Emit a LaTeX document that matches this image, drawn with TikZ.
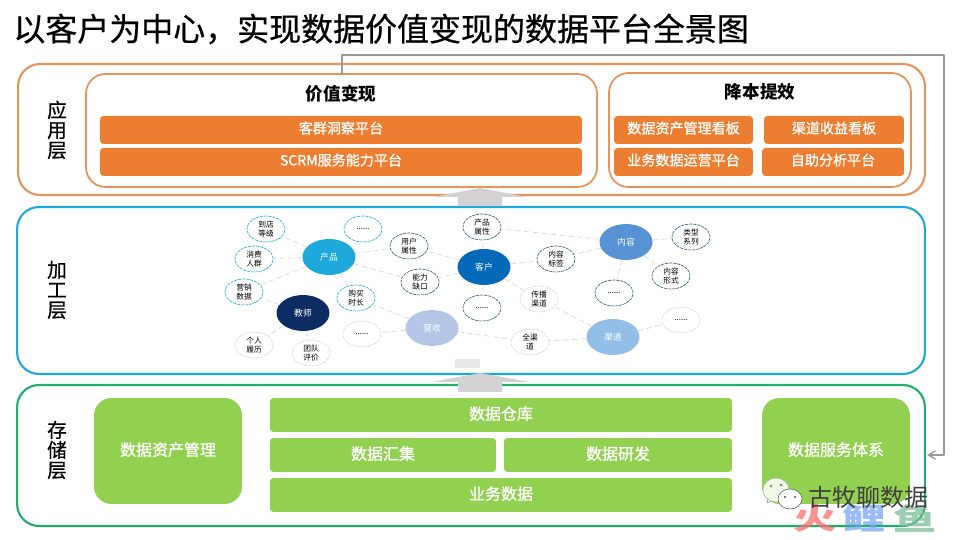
\documentclass[tikz,border=0pt]{standalone}
\usepackage{fontspec}
\setmainfont{Noto Sans CJK SC}
\newfontfamily\mediumfont[FakeBold=0.6]{Noto Sans CJK SC}
\newfontfamily\barfont[FakeBold=1]{Noto Sans CJK SC}
\usetikzlibrary{arrows,shapes.geometric,positioning}
\definecolor{barorange}{HTML}{ED7D31}
\definecolor{lineorange}{HTML}{E8935A}
\definecolor{layerblue}{HTML}{1DA9DC}
\definecolor{layergreen}{HTML}{1FAF6B}
\definecolor{bargreen}{HTML}{92D050}
\definecolor{arrowgray}{HTML}{D3D1D1}
\definecolor{edgegray}{HTML}{D8D8D8}
\definecolor{leafnavy}{HTML}{2A5A78}
\tikzset{
	layerbox/.style={draw,line width=1.2pt,rounded corners=12.5pt,inner sep=0pt,outer sep=0pt},
	groupbox/.style={draw=lineorange,line width=1pt,rounded corners=11pt,inner sep=0pt,outer sep=0pt},
	orangebar/.style={fill=barorange,rounded corners=2pt,inner sep=0pt,outer sep=0pt,text=white,text height=6.8pt,text depth=2.9pt,font=\fontsize{8}{10}\selectfont\barfont},
	greenbar/.style={fill=bargreen,rounded corners=2pt,inner sep=0pt,outer sep=0pt,text=white,text height=7.6pt,text depth=2.2pt,font=\fontsize{9.1}{11}\selectfont\barfont},
	greenbig/.style={greenbar,rounded corners=10pt,minimum width=2.96cm,minimum height=2.12cm},
	layertext/.style={align=center,font=\fontsize{11.2}{11.4}\selectfont\mediumfont},
	hub/.style={ellipse,minimum width=1.06cm,minimum height=0.72cm,inner sep=0pt,text=white,font=\fontsize{5}{6}\selectfont},
	leaf/.style={ellipse,draw=#1,dash pattern=on 1.6pt off 0.7pt,line width=0.35pt,fill=white,minimum width=0.76cm,minimum height=0.52cm,inner sep=0pt,align=center,font=\fontsize{4.4}{5}\selectfont},
	leaf/.default=layerblue,
	link/.style={edgegray,line width=0.4pt,densely dashed},
	uparrow/.style={fill=arrowgray,draw=none},
	logotext/.style={inner sep=0pt,text opacity=0.75,font=\fontsize{17}{18}\selectfont\bfseries}
}
\begin{document}
\begin{tikzpicture}[line cap=round,line join=round,>=angle 60,x=0.02cm,y=-0.02cm]
	\useasboundingbox (0,0) rectangle (960,540);
	\clip (0,0) rectangle (960,540);
	% title
	\node[anchor=west,inner sep=0pt,font=\fontsize{18.2}{20}\selectfont\mediumfont] (title) at (13,29) {以客户为中心，实现数据价值变现的数据平台全景图};
	% three layers
	\node[layerbox,draw=lineorange,minimum width=18.14cm,minimum height=2.62cm] (apply) at (471.5,129.5) {};
	\node[layerbox,draw=layerblue,minimum width=18.16cm,minimum height=3.34cm] (process) at (471,290.5) {};
	\node[layerbox,draw=layergreen,minimum width=18.16cm,minimum height=2.82cm] (store) at (471,455.5) {};
	\node[layertext] (applytext) at (57,130) {应\\用\\层};
	\node[layertext] (processtext) at (57,290) {加\\工\\层};
	\node[layertext] (storetext) at (57,450) {存\\储\\层};
	% application layer
	\node[groupbox,minimum width=10.22cm,minimum height=2.26cm] (value) at (341.5,130.5) {};
	\node[groupbox,minimum width=6.04cm,minimum height=2.28cm] (cost) at (760,130) {};
	\node[font=\fontsize{10}{12}\selectfont\bfseries] (valuetext) at (341,94) {价值变现};
	\node[font=\fontsize{10}{12}\selectfont\bfseries] (costtext) at (760,92) {降本提效};
	\node[orangebar,minimum width=9.64cm,minimum height=0.56cm] (insight) at (341,130) {客群洞察平台};
	\node[orangebar,minimum width=9.64cm,minimum height=0.56cm] (scrm) at (341,162) {SCRM服务能力平台};
	\node[orangebar,minimum width=2.78cm,minimum height=0.56cm] (asset) at (683.5,130) {数据资产管理看板};
	\node[orangebar,minimum width=2.80cm,minimum height=0.56cm] (channel) at (834,130) {渠道收益看板};
	\node[orangebar,minimum width=2.78cm,minimum height=0.56cm] (operate) at (683.5,162) {业务数据运营平台};
	\node[orangebar,minimum width=2.84cm,minimum height=0.56cm] (selfhelp) at (833,162) {自助分析平台};
	% storage layer
	\node[greenbig] (assetmgr) at (168,451) {数据资产管理};
	\node[greenbar,minimum width=9.24cm,minimum height=0.68cm] (warehouse) at (501,415) {数据仓库};
	\node[greenbar,minimum width=4.52cm,minimum height=0.68cm] (collect) at (383,455) {数据汇集};
	\node[greenbar,minimum width=4.56cm,minimum height=0.68cm] (develop) at (618,455) {数据研发};
	\node[greenbar,minimum width=9.24cm,minimum height=0.68cm] (bizdata) at (501,495) {业务数据};
	\node[greenbig] (service) at (836,451) {数据服务体系};
	% block arrows
	\node[fill=arrowgray!50,minimum width=0.5cm,minimum height=0.18cm,inner sep=0pt] (blob) at (467,363.5) {};
	\fill[uparrow] (480,188) -- (527,197) -- (502,197) -- (502,206) -- (458,206) -- (458,197) -- (433,197) -- cycle;
	\fill[uparrow] (480,373) -- (530,382) -- (502,382) -- (502,392) -- (458,392) -- (458,382) -- (432,382) -- cycle;
	% feedback line
	\coordinate (backleft) at (342,55);
	\coordinate (backright) at (944,55);
	\coordinate (backlow) at (944,455);
	\coordinate (backend) at (927,455);
	\draw[line width=0.8pt,color=black!40,->] (value.north -| backleft) -- (backleft) -- (backright) -- (backlow) -- (backend);
	% graph in the middle
	\node[hub,fill=layerblue] (product) at (329,257) {产品};
	\node[hub,fill={rgb,255:red,13;green,44;blue,100}] (teacher) at (303,313) {教师};
	\node[hub,fill={rgb,255:red,180;green,199;blue,231}] (revenue) at (432,328) {营收};
	\node[hub,fill={rgb,255:red,5;green,105;blue,185}] (customer) at (484,267) {客户};
	\node[hub,fill={rgb,255:red,86;green,146;blue,212}] (content) at (626,242) {内容};
	\node[hub,fill={rgb,255:red,146;green,190;blue,232}] (channelhub) at (613,337) {渠道};
	\node[leaf] (level) at (266,229) {到店\\等级};
	\node[leaf] (moreA) at (363,229) {......};
	\node[leaf] (crowd) at (254,259) {消费\\人群};
	\node[leaf] (sales) at (244,292) {营销\\数据};
	\node[leaf=edgegray] (moreB) at (362,334) {......};
	\node[leaf=edgegray] (resume) at (254,345) {个人\\履历};
	\node[leaf=edgegray] (review) at (311,353) {团队\\评价};
	\node[leaf] (buy) at (356,298) {购买\\时长};
	\node[leaf=leafnavy] (attr) at (409,246) {用户\\属性};
	\node[leaf=leafnavy] (gap) at (420,282) {能力\\缺口};
	\node[leaf=leafnavy] (prop) at (482,227) {产品\\属性};
	\node[leaf=leafnavy] (tag) at (556,259) {内容\\标签};
	\node[leaf=leafnavy] (moreC) at (482,308) {......};
	\node[leaf=edgegray] (spread) at (539,299) {传播\\渠道};
	\node[leaf=leafnavy] (moreD) at (614,293) {......};
	\node[leaf=leafnavy] (form) at (671,276) {内容\\形式};
	\node[leaf=leafnavy] (kind) at (691,237) {类型\\系列};
	\node[leaf=edgegray] (moreE) at (681,320) {......};
	\node[leaf=edgegray] (allchan) at (530,342) {全渠\\道};
	\draw[link] (product) -- (level);
	\draw[link] (product) -- (crowd);
	\draw[link] (product) -- (sales);
	\draw[link] (product) -- (attr);
	\draw[link] (product) -- (gap);
	\draw[link] (product) -- (buy);
	\draw[link] (teacher) -- (sales);
	\draw[link] (teacher) -- (resume);
	\draw[link] (teacher) -- (review);
	\draw[link] (revenue) -- (buy);
	\draw[link] (revenue) -- (moreB);
	\draw[link] (revenue) -- (allchan);
	\draw[link] (customer) -- (attr);
	\draw[link] (customer) -- (gap);
	\draw[link] (customer) -- (prop);
	\draw[link] (customer) -- (moreC);
	\draw[link] (customer) -- (tag);
	\draw[link] (customer) -- (spread);
	\draw[link] (content) -- (prop);
	\draw[link] (content) -- (tag);
	\draw[link] (content) -- (moreD);
	\draw[link] (content) -- (form);
	\draw[link] (content) -- (kind);
	\draw[link] (channelhub) -- (spread);
	\draw[link] (channelhub) -- (allchan);
	\draw[link] (channelhub) -- (moreE);
	% watermark
	\node[logotext,text={rgb,255:red,248;green,110;blue,110}] (markA) at (815,518) {\scalebox{1.45}[1]{火}};
	\node[logotext,text={rgb,255:red,120;green,165;blue,245}] (markB) at (864,518) {\scalebox{1.45}[1]{鲤}};
	\node[logotext,text={rgb,255:red,125;green,190;blue,150}] (markC) at (915,519) {\scalebox{1.45}[1]{鱼}};
	\fill[white,draw=black!45,line width=0.3pt] (767,503) -- (769,495) -- (775,499) -- cycle;
	\draw[fill={rgb,255:red,240;green,248;blue,232},draw=black!30,line width=0.3pt] (776,490) ellipse (13 and 12);
	\draw[fill=white,draw=black!65,line width=0.3pt] (790,499) ellipse (12 and 10);
	\fill[black!50] (771,486) circle (1.3) (781,485) circle (1.3);
	\fill[black!70] (785,497) circle (1.2) (795,497) circle (1.2);
	\node[inner sep=0pt,anchor=west,text=black!75,font=\fontsize{13.7}{15}\selectfont] (mark) at (808,497) {古牧聊数据};
\end{tikzpicture}
\end{document}
